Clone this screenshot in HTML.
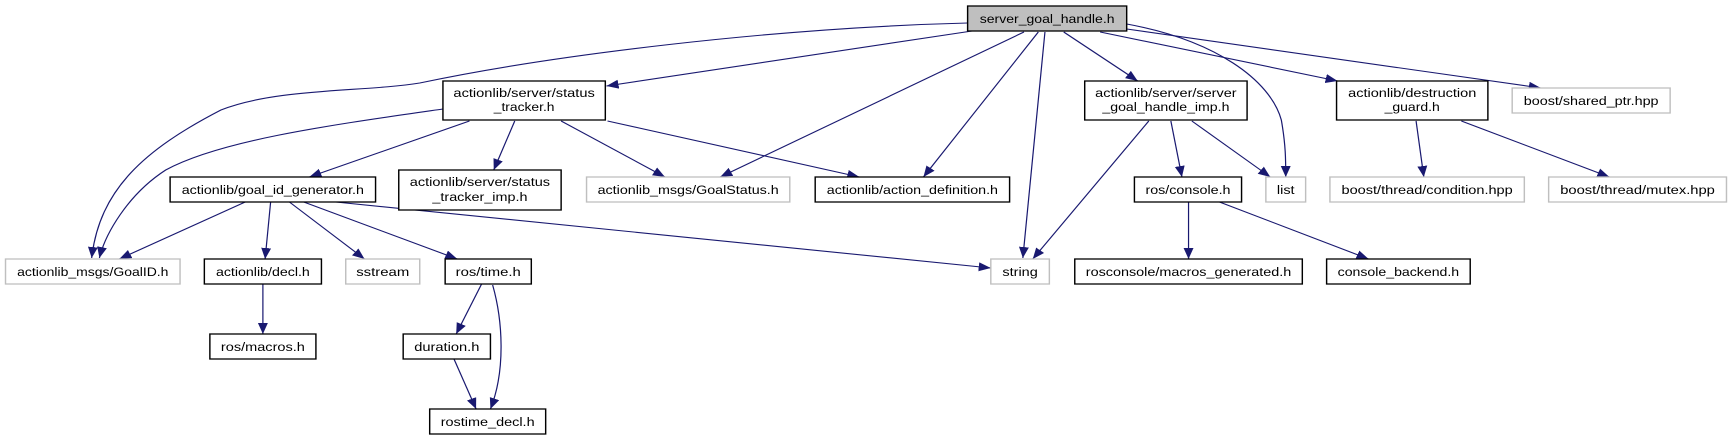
<!DOCTYPE html>
<html><head><meta charset="utf-8"><style>
html,body{margin:0;padding:0;background:#fff;}
svg{display:block;}
text{font-family:"Liberation Sans",sans-serif;font-size:12px;fill:#000;}
</style></head><body>
<svg width="1732" height="440" viewBox="0 0 1568 440" preserveAspectRatio="none" xmlns="http://www.w3.org/2000/svg">
<defs><marker id="a" markerUnits="userSpaceOnUse" markerWidth="12" markerHeight="10" refX="11" refY="4.5" orient="auto"><path d="M0,0 L11,4.5 L0,9 z" fill="#191970"/></marker></defs>
<g fill="none" stroke="#191970" stroke-width="1.1" marker-end="url(#a)">
<path d="M876,23 C700,28 500,55 380,83 C330,92 250,88 200,110 C130,150 90,190 83,258"/>
<path d="M401,109 C300,125 200,140 150,170 C115,195 95,235 90,258"/>
<path d="M880,31 L549,86"/>
<path d="M927,32 L652,177"/>
<path d="M940,32 L836,177"/>
<path d="M946,32 L926,258"/>
<path d="M963,32 L1030,81"/>
<path d="M1020,24 C1100,40 1150,80 1160,120 C1164,145 1164,160 1164,177"/>
<path d="M996,32 L1211,81"/>
<path d="M1020,29 L1395,88"/>
<path d="M425,121 L280,177"/>
<path d="M466,121 L447,170"/>
<path d="M508,121 L602,177"/>
<path d="M550,121 L778,177"/>
<path d="M222,202 L108,259"/>
<path d="M245,202 L240,259"/>
<path d="M262,202 L330,259"/>
<path d="M275,202 L414,259"/>
<path d="M304,202 L897,268"/>
<path d="M1040,121 L935,259"/>
<path d="M1060,121 L1070,177"/>
<path d="M1079,121 L1150,177"/>
<path d="M1282,121 L1289,177"/>
<path d="M1323,121 L1457,177"/>
<path d="M1076,202 L1076,259"/>
<path d="M1104,202 L1239,259"/>
<path d="M238,284 L238,334"/>
<path d="M436,284 L413,334"/>
<path d="M446,285 C455,320 458,370 444,409"/>
<path d="M411,359 L431,409"/>
</g>
<g stroke-width="1.3">
<rect x="876" y="6" width="144" height="25" fill="#bfbfbf" stroke="#000"/>
<rect x="401" y="81" width="147" height="39" fill="#fff" stroke="#000"/>
<rect x="982" y="81" width="147" height="39" fill="#fff" stroke="#000"/>
<rect x="1210" y="81" width="137" height="39" fill="#fff" stroke="#000"/>
<rect x="1369" y="88" width="143" height="25" fill="#fff" stroke="#bfbfbf"/>
<rect x="154" y="177" width="186" height="25" fill="#fff" stroke="#000"/>
<rect x="361" y="170" width="147" height="40" fill="#fff" stroke="#000"/>
<rect x="531" y="177" width="184" height="25" fill="#fff" stroke="#bfbfbf"/>
<rect x="738" y="177" width="176" height="25" fill="#fff" stroke="#000"/>
<rect x="1027" y="177" width="97" height="25" fill="#fff" stroke="#000"/>
<rect x="1146" y="177" width="36" height="25" fill="#fff" stroke="#bfbfbf"/>
<rect x="1204" y="177" width="176" height="25" fill="#fff" stroke="#bfbfbf"/>
<rect x="1402" y="177" width="161" height="25" fill="#fff" stroke="#bfbfbf"/>
<rect x="5" y="259" width="158" height="25" fill="#fff" stroke="#bfbfbf"/>
<rect x="185" y="259" width="106" height="25" fill="#fff" stroke="#000"/>
<rect x="313" y="259" width="67" height="25" fill="#fff" stroke="#bfbfbf"/>
<rect x="403" y="259" width="78" height="25" fill="#fff" stroke="#000"/>
<rect x="897" y="259" width="53" height="25" fill="#fff" stroke="#bfbfbf"/>
<rect x="973" y="259" width="206" height="25" fill="#fff" stroke="#000"/>
<rect x="1201" y="259" width="130" height="25" fill="#fff" stroke="#000"/>
<rect x="190" y="334" width="96" height="25" fill="#fff" stroke="#000"/>
<rect x="365" y="334" width="79" height="25" fill="#fff" stroke="#000"/>
<rect x="389" y="409" width="105" height="25" fill="#fff" stroke="#000"/>
</g>
<g text-anchor="middle" lengthAdjust="spacingAndGlyphs">
<text x="948" y="23" textLength="122" lengthAdjust="spacingAndGlyphs">server_goal_handle.h</text>
<text x="474.5" y="97" textLength="128" lengthAdjust="spacingAndGlyphs">actionlib/server/status</text>
<text x="474.5" y="111" textLength="55" lengthAdjust="spacingAndGlyphs">_tracker.h</text>
<text x="1055.5" y="97" textLength="128" lengthAdjust="spacingAndGlyphs">actionlib/server/server</text>
<text x="1055.5" y="111" textLength="115" lengthAdjust="spacingAndGlyphs">_goal_handle_imp.h</text>
<text x="1278.5" y="97" textLength="116" lengthAdjust="spacingAndGlyphs">actionlib/destruction</text>
<text x="1278.5" y="111" textLength="50" lengthAdjust="spacingAndGlyphs">_guard.h</text>
<text x="1440.5" y="105" textLength="122" lengthAdjust="spacingAndGlyphs">boost/shared_ptr.hpp</text>
<text x="247" y="194" textLength="165" lengthAdjust="spacingAndGlyphs">actionlib/goal_id_generator.h</text>
<text x="434.5" y="186" textLength="127" lengthAdjust="spacingAndGlyphs">actionlib/server/status</text>
<text x="434.5" y="201" textLength="86" lengthAdjust="spacingAndGlyphs">_tracker_imp.h</text>
<text x="623" y="194" textLength="164" lengthAdjust="spacingAndGlyphs">actionlib_msgs/GoalStatus.h</text>
<text x="826" y="194" textLength="155" lengthAdjust="spacingAndGlyphs">actionlib/action_definition.h</text>
<text x="1075.5" y="194" textLength="77" lengthAdjust="spacingAndGlyphs">ros/console.h</text>
<text x="1164" y="194" textLength="16" lengthAdjust="spacingAndGlyphs">list</text>
<text x="1292" y="194" textLength="155" lengthAdjust="spacingAndGlyphs">boost/thread/condition.hpp</text>
<text x="1482.5" y="194" textLength="140" lengthAdjust="spacingAndGlyphs">boost/thread/mutex.hpp</text>
<text x="84" y="276" textLength="137" lengthAdjust="spacingAndGlyphs">actionlib_msgs/GoalID.h</text>
<text x="238" y="276" textLength="85" lengthAdjust="spacingAndGlyphs">actionlib/decl.h</text>
<text x="346.5" y="276" textLength="48" lengthAdjust="spacingAndGlyphs">sstream</text>
<text x="442" y="276" textLength="59" lengthAdjust="spacingAndGlyphs">ros/time.h</text>
<text x="923.5" y="276" textLength="32" lengthAdjust="spacingAndGlyphs">string</text>
<text x="1076" y="276" textLength="186" lengthAdjust="spacingAndGlyphs">rosconsole/macros_generated.h</text>
<text x="1266" y="276" textLength="110" lengthAdjust="spacingAndGlyphs">console_backend.h</text>
<text x="238" y="351" textLength="76" lengthAdjust="spacingAndGlyphs">ros/macros.h</text>
<text x="404.5" y="351" textLength="59" lengthAdjust="spacingAndGlyphs">duration.h</text>
<text x="441.5" y="426" textLength="85" lengthAdjust="spacingAndGlyphs">rostime_decl.h</text>
</g>
</svg>
</body></html>
